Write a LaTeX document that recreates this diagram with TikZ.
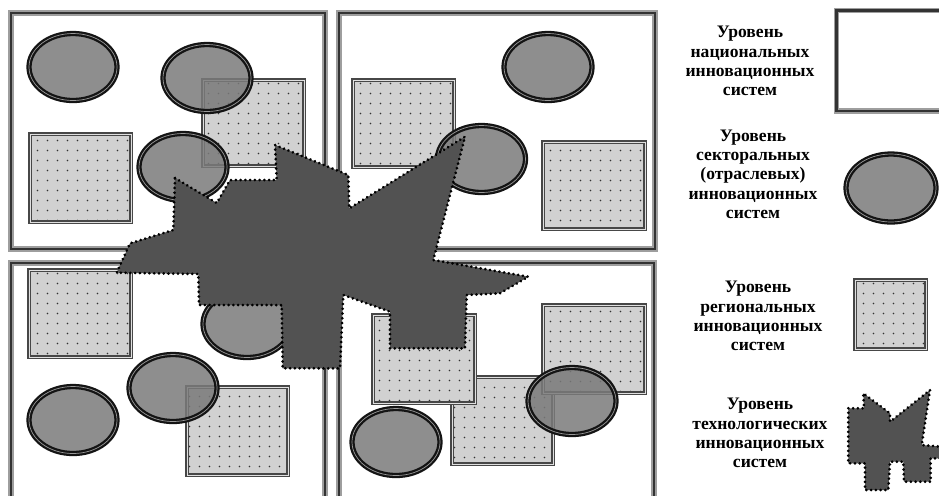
\documentclass[tikz,border=0pt]{standalone}
\usepackage{fontspec}
\setmainfont{Liberation Serif}
\usetikzlibrary{patterns.meta}
\tikzset{
	natframe/.style={draw=black!80, line width=1.5pt, preaction={draw=black!38, line width=3.2pt}},
	sectoral/.style={draw=black!92, line width=1.3pt, double=black!40, double distance=0.4pt, fill=black!52, fill opacity=0.85},
	regional/.style={draw=black!72, line width=0.7pt, double=black!12, double distance=0.5pt, preaction={fill=black!18}, pattern={Dots[distance=5.4pt, radius=0.55pt]}, pattern color=black!80},
	techno/.style={fill=black!68, draw=black, line width=1.7pt, dash pattern=on 0.01pt off 2.7pt, line cap=round},
	legtext/.style={align=center, inner sep=0pt, font=\bfseries\fontsize{10}{11}\selectfont}
}
\begin{document}
\begin{tikzpicture}[x=0.02cm, y=-0.02cm]
	\clip (0,0) rectangle (939,495);
	% Nationale Ebene
	\foreach \xa/\ya/\xb/\yb in {11/13/325/249, 339/13/655/249, 11/263/325/510, 339/263/654/510} {
		\draw[natframe] (\xa,\ya) rectangle (\xb,\yb);
	}
	% Regionale Ebene
	\foreach \xa/\ya/\xb/\yb in {29/133/132/223, 202/79/305/167, 352/79/455/168, 542/141/646/230,
		28/269/132/358, 186/386/289/476, 451/376/554/465, 372/314/476/404, 542/304/646/394} {
		\draw[regional] (\xa+1,\ya+1) rectangle (\xb-1,\yb-1);
	}
	% Sektorale Ebene
	\foreach \x/\y in {73/67, 207/78, 183/167, 548/67, 481.5/159, 247/324, 73/420, 173/388, 572/401, 396/442} {
		\draw[sectoral] (\x,\y) ellipse [x radius=44, y radius=33.5];
	}
	% Technologische Ebene
	\draw[techno] (175,178) -- (216.7,203) -- (230,180) -- (276.7,180) -- (275,145) -- (348.3,175)
		-- (349.3,208.3) -- (465,136.7) -- (433.3,260) -- (528.3,276.7) -- (500,293.3) -- (466.7,295)
		-- (465,348.3) -- (390,348.3) -- (390,311.7) -- (343.3,295) -- (340,368.3) -- (282.7,368.3)
		-- (281.7,305) -- (199,305) -- (198.3,274) -- (116.7,272.7) -- (130,243.3) -- (173.3,230) -- cycle;

	% Legende
	\node[legtext] (nat) at (750,61) {Уровень\\национальных\\инновационных\\систем};
	\node[legtext] (sek) at (753,174) {Уровень\\секторальных\\(отраслевых)\\инновационных\\систем};
	\node[legtext] (reg) at (758,316) {Уровень\\региональных\\инновационных\\систем};
	\node[legtext] (tech) at (760,433) {Уровень\\технологических\\инновационных\\систем};
	\draw[natframe] (836.5,10.5) rectangle (950,111);
	\draw[sectoral] (891,188) ellipse [x radius=45, y radius=34];
	\draw[regional] (855,280) rectangle (926,349);
	\draw[techno] (848.3,408.3) -- (864,408.3) -- (863.3,393.3) -- (890,413.3) -- (890,421.7) -- (930,390)
		-- (921.7,445) -- (945,447) -- (945,458.3) -- (930.7,458.3) -- (930.7,481.7) -- (904,481.7)
		-- (903.3,461.7) -- (890,461.7) -- (888.3,490) -- (865,490) -- (865,463.3) -- (848.3,463.3) -- cycle;
\end{tikzpicture}
\end{document}
